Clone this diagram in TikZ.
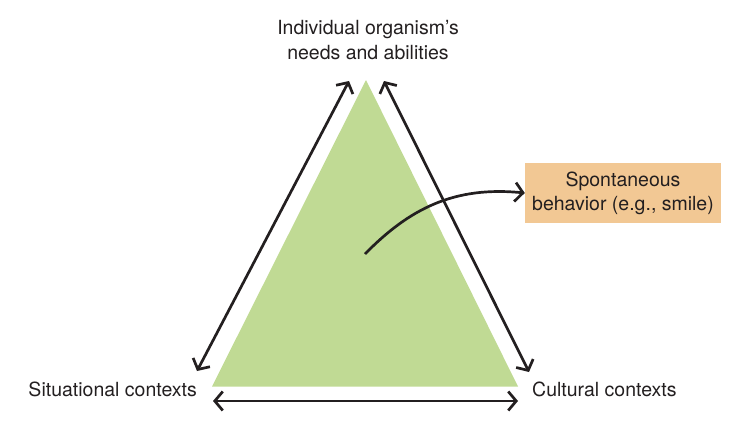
\documentclass[tikz,border=0pt]{standalone}
\usepackage{fontspec}
\setmainfont{TeX Gyre Heros}
\usetikzlibrary{arrows.meta}
\definecolor{tri}{HTML}{C0DA94}
\definecolor{boxc}{HTML}{F2C894}
\definecolor{ink}{HTML}{231F20}
\tikzset{
  lbl/.style={font=\fontsize{19.5}{24.5}\selectfont, text=ink, align=center, inner sep=0pt},
  dbl/.style={ink, line width=2.7pt, {Straight Barb[length=8pt,width=19pt]}-{Straight Barb[length=8pt,width=19pt]}},
  sgl/.style={ink, line width=2.7pt, -{Straight Barb[length=8pt,width=19pt]}}
}
\begin{document}
\begin{tikzpicture}[x=1pt,y=-1pt]
\useasboundingbox (0,0) rectangle (748,434);
\coordinate (A) at (366,80);
\coordinate (B) at (212,386.5);
\coordinate (C) at (518,386.5);
\fill[tri] (A) -- (B) -- (C) -- cycle;
% arrows
\coordinate (l1) at (197,371);
\coordinate (l2) at (349,81);
\coordinate (r1) at (384,81);
\coordinate (r2) at (529,372);
\coordinate (b1) at (213,401);
\coordinate (b2) at (518,401);
\draw[dbl] (l1) -- (l2);
\draw[dbl] (r1) -- (r2);
\draw[dbl] (b1) -- (b2);
% box
\node[fill=boxc, minimum width=196pt, minimum height=60pt, inner sep=0pt] (box) at (623,193) {};
\node[lbl] (boxt) at (623,193.5) {Spontaneous\\behavior (e.g., smile)};
\coordinate (s) at (365,254);
\draw[sgl] (s) .. controls (410,208) and (455,186) .. (box.west);
% labels
\node[lbl] (top) at (368,40) {Individual organism’s\\needs and abilities};
\node[lbl, anchor=east] (sit) at (197,389) {Situational contexts};
\node[lbl, anchor=west] (cul) at (532,389) {Cultural contexts};
\end{tikzpicture}
\end{document}
